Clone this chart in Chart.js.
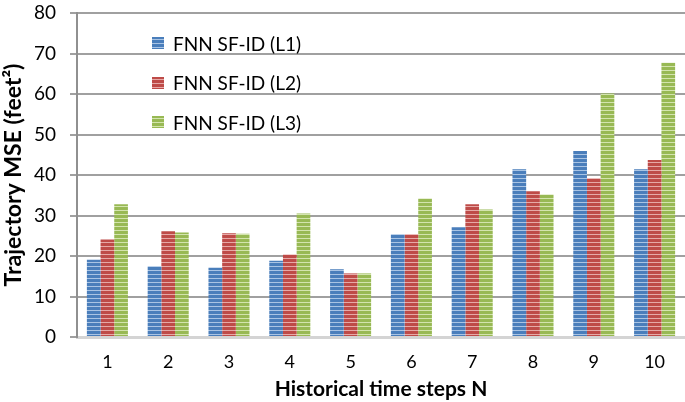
<!DOCTYPE html>
<html>
<head>
<meta charset="utf-8">
<script src="https://cdn.jsdelivr.net/npm/chart.js@4"></script>
<style>
  html, body { margin: 0; padding: 0; background: #fff; }
  #wrap { position: relative; width: 685px; height: 402px; }
  #legend { position: absolute; left: 152px; top: 30px; font: 19px Lato, sans-serif; color: #000; }
  .item { display: flex; align-items: center; height: 26px; margin-bottom: 13.5px; }
  .swatch { width: 12px; height: 12px; margin-right: 9px; }
</style>
</head>
<body>
<div id="wrap">
  <canvas id="mseChart" width="685" height="402"></canvas>
  <div id="legend"></div>
</div>
<script>
const categories = ['1', '2', '3', '4', '5', '6', '7', '8', '9', '10'];
const seriesNames = ['FNN SF-ID (L1)', 'FNN SF-ID (L2)', 'FNN SF-ID (L3)'];
const l1Values = [19.1, 17.5, 17.1, 18.8, 16.7, 25.4, 27.1, 41.4, 45.9, 41.4];
const l2Values = [24.1, 26.1, 25.6, 20.4, 15.7, 25.4, 32.8, 36.0, 39.2, 43.7];
const l3Values = [32.8, 25.8, 25.5, 30.5, 15.7, 34.2, 31.5, 35.2, 60.1, 67.7];
const yTicks = [0, 10, 20, 30, 40, 50, 60, 70, 80];

const baseColors = ['#4a7ebb', '#be4b48', '#98b954'];
const lightColors = ['#a9c4e4', '#e6a9a7', '#d3e4ae'];

function stripes(base, light) {
  const c = document.createElement('canvas');
  c.width = 4; c.height = 4;
  const g = c.getContext('2d');
  g.fillStyle = base;
  g.fillRect(0, 0, 4, 4);
  g.fillStyle = light;
  g.fillRect(0, 2, 4, 1);
  return g.createPattern(c, 'repeat');
}

const values = [l1Values, l2Values, l3Values];
const datasets = seriesNames.map((name, i) => ({
  label: name,
  data: values[i],
  backgroundColor: stripes(baseColors[i], lightColors[i]),
  borderWidth: 0,
  categoryPercentage: 0.675,
  barPercentage: 1
}));

// legend sits inside the plot, drawn as html
const legendEl = document.getElementById('legend');
seriesNames.forEach((name, i) => {
  const row = document.createElement('div');
  row.className = 'item';
  const sw = document.createElement('span');
  sw.className = 'swatch';
  sw.style.background = `repeating-linear-gradient(to bottom, ${baseColors[i]} 0 2px, ${lightColors[i]} 2px 3px, ${baseColors[i]} 3px 4px)`;
  const txt = document.createElement('span');
  txt.textContent = name;
  row.appendChild(sw);
  row.appendChild(txt);
  legendEl.appendChild(row);
});

const ctx = document.getElementById('mseChart').getContext('2d');
new Chart(ctx, {
  type: 'bar',
  data: { labels: categories, datasets },
  options: {
    responsive: false,
    animation: false,
    layout: { padding: { top: 13, right: 0, left: 0, bottom: 0 } },
    plugins: {
      legend: { display: false },
      tooltip: { enabled: false }
    },
    scales: {
      x: {
        grid: { display: false },
        border: { display: true, color: '#d4d4d4', width: 3 },
        ticks: { color: '#000', font: { family: 'Lato', size: 18 }, padding: 6 },
        title: { display: true, text: 'Historical time steps N', color: '#000', font: { family: 'Lato', size: 21, weight: 'bold' }, padding: 0 },
        afterFit: (scale) => { scale.height = 65; }
      },
      y: {
        min: 0,
        max: 80,
        afterBuildTicks: (scale) => { scale.ticks = yTicks.map(v => ({ value: v })); },
        grid: {
          color: (c) => (c.tick && c.tick.value === 0 ? 'rgba(0,0,0,0)' : '#a0a0a0'),
          tickColor: '#a0a0a0',
          lineWidth: 2,
          tickLength: 7
        },
        border: { display: true, color: '#909090', width: 2 },
        ticks: { color: '#000', font: { family: 'Lato', size: 19 }, padding: 14 },
        title: { display: true, text: 'Trajectory MSE (feet²)', color: '#000', font: { family: 'Lato', size: 23, weight: 'bold' }, padding: 0 },
        afterFit: (scale) => {
          scale.width = 77;
          scale.paddingTop = 0;
          scale.paddingBottom = 0;
        }
      }
    }
  }
});
</script>
</body>
</html>
